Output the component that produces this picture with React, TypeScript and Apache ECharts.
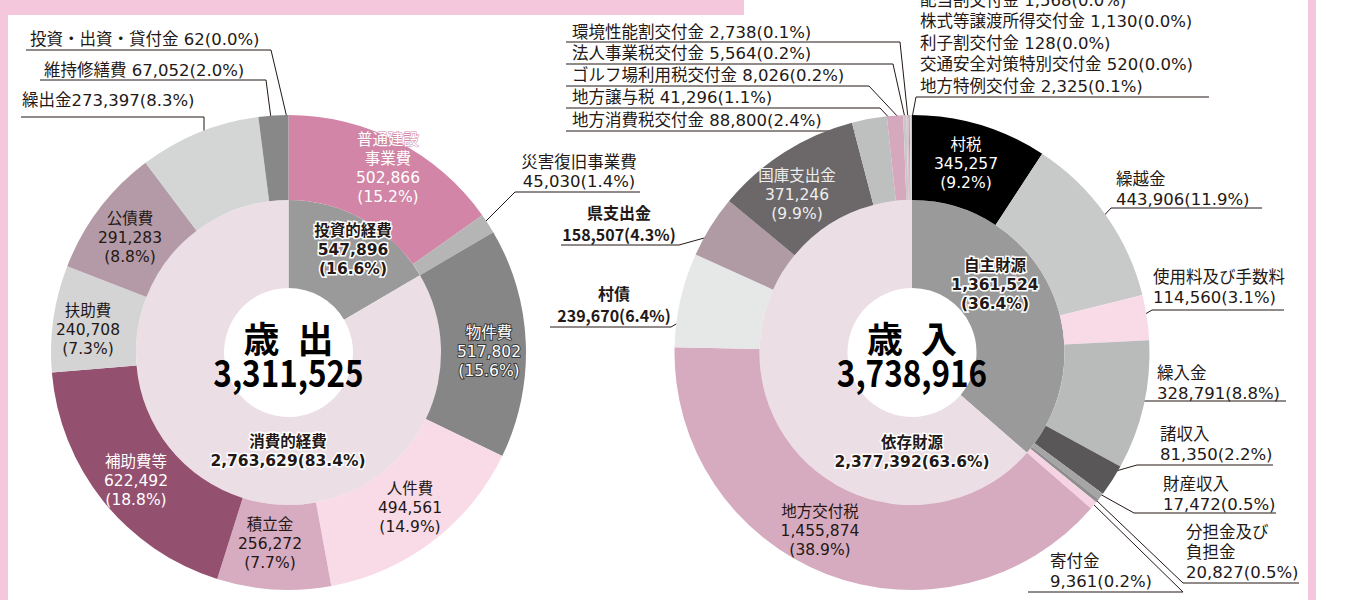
import React, { useEffect, useRef } from 'react';
import * as echarts from 'echarts';

const FONT = '"DejaVu Sans", "Noto Sans CJK JP", "Noto Sans CJK SC", sans-serif';
const JP_FONT = '"Noto Sans CJK JP", "Noto Sans CJK SC", sans-serif';

// ---- 歳出 ----
const expenseTitle = '歳\u2002出';
const expenseTotal = 3311525;
const expenseGroupNames = ['投資的経費', '消費的経費'];
const expenseGroupValues = [547896, 2763629];
const expenseGroupPct = ['16.6', '83.4'];
const expenseNames = ['普通建設事業費', '災害復旧事業費', '物件費', '人件費', '積立金', '補助費等', '扶助費', '公債費', '繰出金', '維持修繕費', '投資・出資・貸付金'];
const expenseValues = [502866, 45030, 517802, 494561, 256272, 622492, 240708, 291283, 273397, 67052, 62];
const expensePct = ['15.2', '1.4', '15.6', '14.9', '7.7', '18.8', '7.3', '8.8', '8.3', '2.0', '0.0'];

// ---- 歳入 ----
const revenueTitle = '歳\u2002入';
const revenueTotal = 3738916;
const revenueGroupNames = ['自主財源', '依存財源'];
const revenueGroupValues = [1361524, 2377392];
const revenueGroupPct = ['36.4', '63.6'];
const revenueNames = ['村税', '繰越金', '使用料及び手数料', '繰入金', '諸収入', '財産収入', '寄付金', '分担金及び負担金', '地方交付税', '村債', '県支出金', '国庫支出金', '地方消費税交付金', '地方譲与税', 'ゴルフ場利用税交付金', '法人事業税交付金', '環境性能割交付金', '配当割交付金', '株式等譲渡所得交付金', '利子割交付金', '交通安全対策特別交付金', '地方特例交付金'];
const revenueValues = [345257, 443906, 114560, 328791, 81350, 17472, 9361, 20827, 1455874, 239670, 158507, 371246, 88800, 41296, 8026, 5564, 2738, 1568, 1130, 128, 520, 2325];
const revenuePct = ['9.2', '11.9', '3.1', '8.8', '2.2', '0.5', '0.2', '0.5', '38.9', '6.4', '4.3', '9.9', '2.4', '1.1', '0.2', '0.2', '0.1', '0.0', '0.0', '0.0', '0.0', '0.1'];

// ---- styles ----
const COLORS: Record<string, string> = {
  投資的経費: '#9a9a9a', 消費的経費: '#ecdee5',
  普通建設事業費: '#d285a6', 災害復旧事業費: '#b5b5b5', 物件費: '#868686', 人件費: '#f9dbe8',
  積立金: '#d7abc0', 補助費等: '#94506f', 扶助費: '#d4d4d4', 公債費: '#b39aa6',
  繰出金: '#d4d6d6', 維持修繕費: '#888888', '投資・出資・貸付金': '#aaaaaa',
  自主財源: '#9a9a9a', 依存財源: '#ecdee5',
  村税: '#000000', 繰越金: '#c8c9c9', 使用料及び手数料: '#f9dbe8', 繰入金: '#b9baba',
  諸収入: '#595757', 財産収入: '#a5a5a5', 寄付金: '#8e8e8e', 分担金及び負担金: '#f6d3e2',
  地方交付税: '#d6abc0', 村債: '#e6e7e7', 県支出金: '#b09ba5', 国庫支出金: '#6c6869',
  地方消費税交付金: '#bebfbf', 地方譲与税: '#d6a8bd', ゴルフ場利用税交付金: '#c8c8c8',
  法人事業税交付金: '#e0c0d0', 環境性能割交付金: '#9f9f9f', 配当割交付金: '#cccccc',
  株式等譲渡所得交付金: '#dddddd', 利子割交付金: '#aaaaaa', 交通安全対策特別交付金: '#f0d0e0',
  地方特例交付金: '#c0c0c0',
};

type Spec = {
  fmt: 'stack' | 'two' | 'inline' | 'tight';
  x: number; y: number; align?: 'left' | 'center';
  fill?: string; stroke?: string; strokeW?: number; bold?: boolean; font?: string;
  line?: number[][]; size?: number; lh?: number; disp?: string;
};

const INK = '#231815';
const HALO = { stroke: '#ffffff', strokeW: 3, bold: true };
const OS = 16.5; // outside label font size

const SPECS: Record<string, Spec> = {
  // expense inner
  投資的経費: { fmt: 'stack', x: 353, y: 250, ...HALO },
  消費的経費: { fmt: 'two', x: 288, y: 451, ...HALO },
  // expense outer
  普通建設事業費: { fmt: 'stack', x: 388, y: 168, fill: '#ffffff', stroke: '#cf86a5', strokeW: 1, disp: '普通建設\n事業費' },
  災害復旧事業費: { fmt: 'two', x: 579, y: 172, size: OS, lh: 19, line: [[476, 231], [515, 192], [640, 192]] },
  物件費: { fmt: 'stack', x: 489, y: 352, fill: '#ffffff', stroke: '#3a3a3a', strokeW: 2 },
  人件費: { fmt: 'stack', x: 410, y: 508 },
  積立金: { fmt: 'stack', x: 270, y: 544 },
  補助費等: { fmt: 'stack', x: 136, y: 481, fill: '#ffffff' },
  扶助費: { fmt: 'stack', x: 88, y: 330 },
  公債費: { fmt: 'stack', x: 130, y: 238 },
  繰出金: { fmt: 'tight', x: 22, y: 100, align: 'left', size: OS, line: [[204, 147], [204, 117], [21, 117]] },
  維持修繕費: { fmt: 'inline', x: 44, y: 70, align: 'left', size: OS, line: [[272, 126], [266, 80], [40, 80]] },
  '投資・出資・貸付金': { fmt: 'inline', x: 30, y: 39, align: 'left', size: OS, line: [[287, 118], [271, 50], [26, 50]] },
  // revenue inner
  自主財源: { fmt: 'stack', x: 995, y: 285, ...HALO },
  依存財源: { fmt: 'two', x: 912, y: 452, ...HALO },
  // revenue outer
  村税: { fmt: 'stack', x: 966, y: 164, fill: '#ffffff' },
  繰越金: { fmt: 'two', x: 1116, y: 189, align: 'left', size: OS, line: [[1098, 222], [1111, 208], [1262, 208]] },
  使用料及び手数料: { fmt: 'two', x: 1153, y: 287, align: 'left', size: OS, line: [[1137, 319], [1152, 310], [1284, 310]] },
  繰入金: { fmt: 'two', x: 1157, y: 383, align: 'left', size: OS, line: [[1134, 401], [1140, 401], [1286, 401]] },
  諸収入: { fmt: 'two', x: 1160, y: 444, align: 'left', size: OS, line: [[1109, 473], [1137, 465], [1273, 465]] },
  財産収入: { fmt: 'two', x: 1163, y: 494, align: 'left', size: OS, line: [[1098, 493], [1134, 513], [1276, 513]] },
  寄付金: { fmt: 'two', x: 1050, y: 571, align: 'left', size: OS, line: [[1091, 502], [1183, 592], [1028, 592]] },
  分担金及び負担金: { fmt: 'two', x: 1186, y: 552, align: 'left', size: OS, disp: '分担金及び\n負担金', line: [[1096, 500], [1183, 583], [1299, 583]] },
  地方交付税: { fmt: 'stack', x: 820, y: 531 },
  村債: { fmt: 'two', x: 614, y: 304, size: 16, lh: 22, bold: true, font: JP_FONT, line: [[697, 312], [671, 327], [550, 327]] },
  県支出金: { fmt: 'two', x: 619, y: 223, size: 16, lh: 22, bold: true, font: JP_FONT, line: [[715, 235], [679, 245], [561, 245]] },
  国庫支出金: { fmt: 'stack', x: 797, y: 195, fill: '#eeeeee' },
  地方消費税交付金: { fmt: 'inline', x: 572, y: 120, align: 'left', size: OS, line: [[869, 126], [864, 131], [566, 131]] },
  地方譲与税: { fmt: 'inline', x: 572, y: 97, align: 'left', size: OS, line: [[894, 123], [880, 108], [566, 108]] },
  ゴルフ場利用税交付金: { fmt: 'inline', x: 572, y: 75, align: 'left', size: OS, line: [[900, 119], [869, 86], [566, 86]] },
  法人事業税交付金: { fmt: 'inline', x: 572, y: 53, align: 'left', size: OS, line: [[905, 118], [893, 64], [566, 64]] },
  環境性能割交付金: { fmt: 'inline', x: 572, y: 32, align: 'left', size: OS, line: [[908, 118], [900, 42], [566, 42]] },
  配当割交付金: { fmt: 'inline', x: 920, y: 0, align: 'left', size: OS },
  株式等譲渡所得交付金: { fmt: 'inline', x: 920, y: 21, align: 'left', size: OS },
  利子割交付金: { fmt: 'inline', x: 920, y: 43, align: 'left', size: OS },
  交通安全対策特別交付金: { fmt: 'inline', x: 920, y: 64, align: 'left', size: OS },
  地方特例交付金: { fmt: 'inline', x: 920, y: 86, align: 'left', size: OS, line: [[912, 118], [916, 97], [1209, 97]] },
};

const fmtNum = (v: number) => v.toLocaleString('en-US');

function labelText(name: string, value: number, pct: string, s: Spec) {
  const n = s.disp ?? name;
  switch (s.fmt) {
    case 'stack': return `${n}\n${fmtNum(value)}\n(${pct}%)`;
    case 'two': return `${n}\n${fmtNum(value)}(${pct}%)`;
    case 'inline': return `${n} ${fmtNum(value)}(${pct}%)`;
    default: return `${n}${fmtNum(value)}(${pct}%)`;
  }
}

const R_HOLE = 64.5;
const R_MID = 152.5;
const R_OUT = 237.5;

function pieSeries(id: string, center: number[], radius: number[], names: string[], values: number[], pcts: string[]) {
  return {
    type: 'pie',
    id,
    center,
    radius,
    startAngle: 90,
    clockwise: true,
    avoidLabelOverlap: false,
    silent: true,
    emphasis: { disabled: true },
    itemStyle: { borderWidth: 0 },
    data: names.map((n, i) => {
      const s = SPECS[n];
      return {
        name: n,
        value: values[i],
        itemStyle: { color: COLORS[n] },
        label: {
          show: true,
          position: s.line ? 'outside' : 'inside',
          formatter: labelText(n, values[i], pcts[i], s),
          fontFamily: s.font ?? FONT,
          fontSize: s.size ?? 15.5,
          lineHeight: s.lh ?? (s.size ? 20 : 19),
          fontWeight: s.bold ? 'bold' : 'normal',
          color: s.fill ?? INK,
          textBorderColor: s.stroke ?? 'transparent',
          textBorderWidth: s.stroke ? (s.strokeW ?? 3) : 0,
          overflow: 'none',
          width: 400,
          align: s.align ?? 'center',
        },
        labelLine: {
          show: !!s.line,
          length: 5,
          length2: 5,
          lineStyle: { color: INK, width: 1 },
        },
      };
    }),
    labelLayout: (p: any) => {
      const s = SPECS[names[p.dataIndex]];
      const r: any = { x: s.x, y: s.y, align: s.align ?? 'center', verticalAlign: 'middle' };
      if (s.line) r.labelLinePoints = s.line.map((pt) => [pt[0], pt[1]]);
      return r;
    },
  };
}

const LEFT_C = [288.5, 352.5];
const RIGHT_C = [912, 352.5];
const PINK = '#f5c7dc';

export default function App() {
  const ref = useRef<HTMLDivElement>(null);
  useEffect(() => {
    document.body.style.margin = '0';
    const chart = echarts.init(ref.current!, undefined, { renderer: 'svg' });
    chart.setOption({
      animation: false,
      backgroundColor: '#ffffff',
      series: [
        pieSeries('expInner', LEFT_C, [R_HOLE, R_MID], expenseGroupNames, expenseGroupValues, expenseGroupPct),
        pieSeries('expOuter', LEFT_C, [R_MID, R_OUT], expenseNames, expenseValues, expensePct),
        pieSeries('revInner', RIGHT_C, [R_HOLE, R_MID], revenueGroupNames, revenueGroupValues, revenueGroupPct),
        pieSeries('revOuter', RIGHT_C, [R_MID, R_OUT], revenueNames, revenueValues, revenuePct),
      ],
      graphic: [
        { type: 'rect', shape: { x: 0, y: 0, width: 8, height: 600 }, style: { fill: PINK }, silent: true },
        { type: 'rect', shape: { x: 0, y: 0, width: 744, height: 15 }, style: { fill: PINK }, silent: true },
        { type: 'rect', shape: { x: 1308, y: 0, width: 8, height: 600 }, style: { fill: PINK }, silent: true },
        { type: 'text', x: LEFT_C[0], y: 337, z: 100, style: { text: expenseTitle, fill: '#000', fontFamily: JP_FONT, fontSize: 36, fontWeight: 'bold', align: 'center', verticalAlign: 'middle' } },
        { type: 'text', x: LEFT_C[0], y: 371, z: 100, scaleX: 0.85, style: { text: fmtNum(expenseTotal), fill: '#000', fontFamily: JP_FONT, fontSize: 37, fontWeight: 'bold', align: 'center', verticalAlign: 'middle' } },
        { type: 'text', x: RIGHT_C[0], y: 337, z: 100, style: { text: revenueTitle, fill: '#000', fontFamily: JP_FONT, fontSize: 36, fontWeight: 'bold', align: 'center', verticalAlign: 'middle' } },
        { type: 'text', x: RIGHT_C[0], y: 371, z: 100, scaleX: 0.85, style: { text: fmtNum(revenueTotal), fill: '#000', fontFamily: JP_FONT, fontSize: 37, fontWeight: 'bold', align: 'center', verticalAlign: 'middle' } },
      ],
    });
    return () => chart.dispose();
  }, []);
  return <div ref={ref} style={{ width: 1347, height: 600, overflow: 'hidden' }} />;
}
